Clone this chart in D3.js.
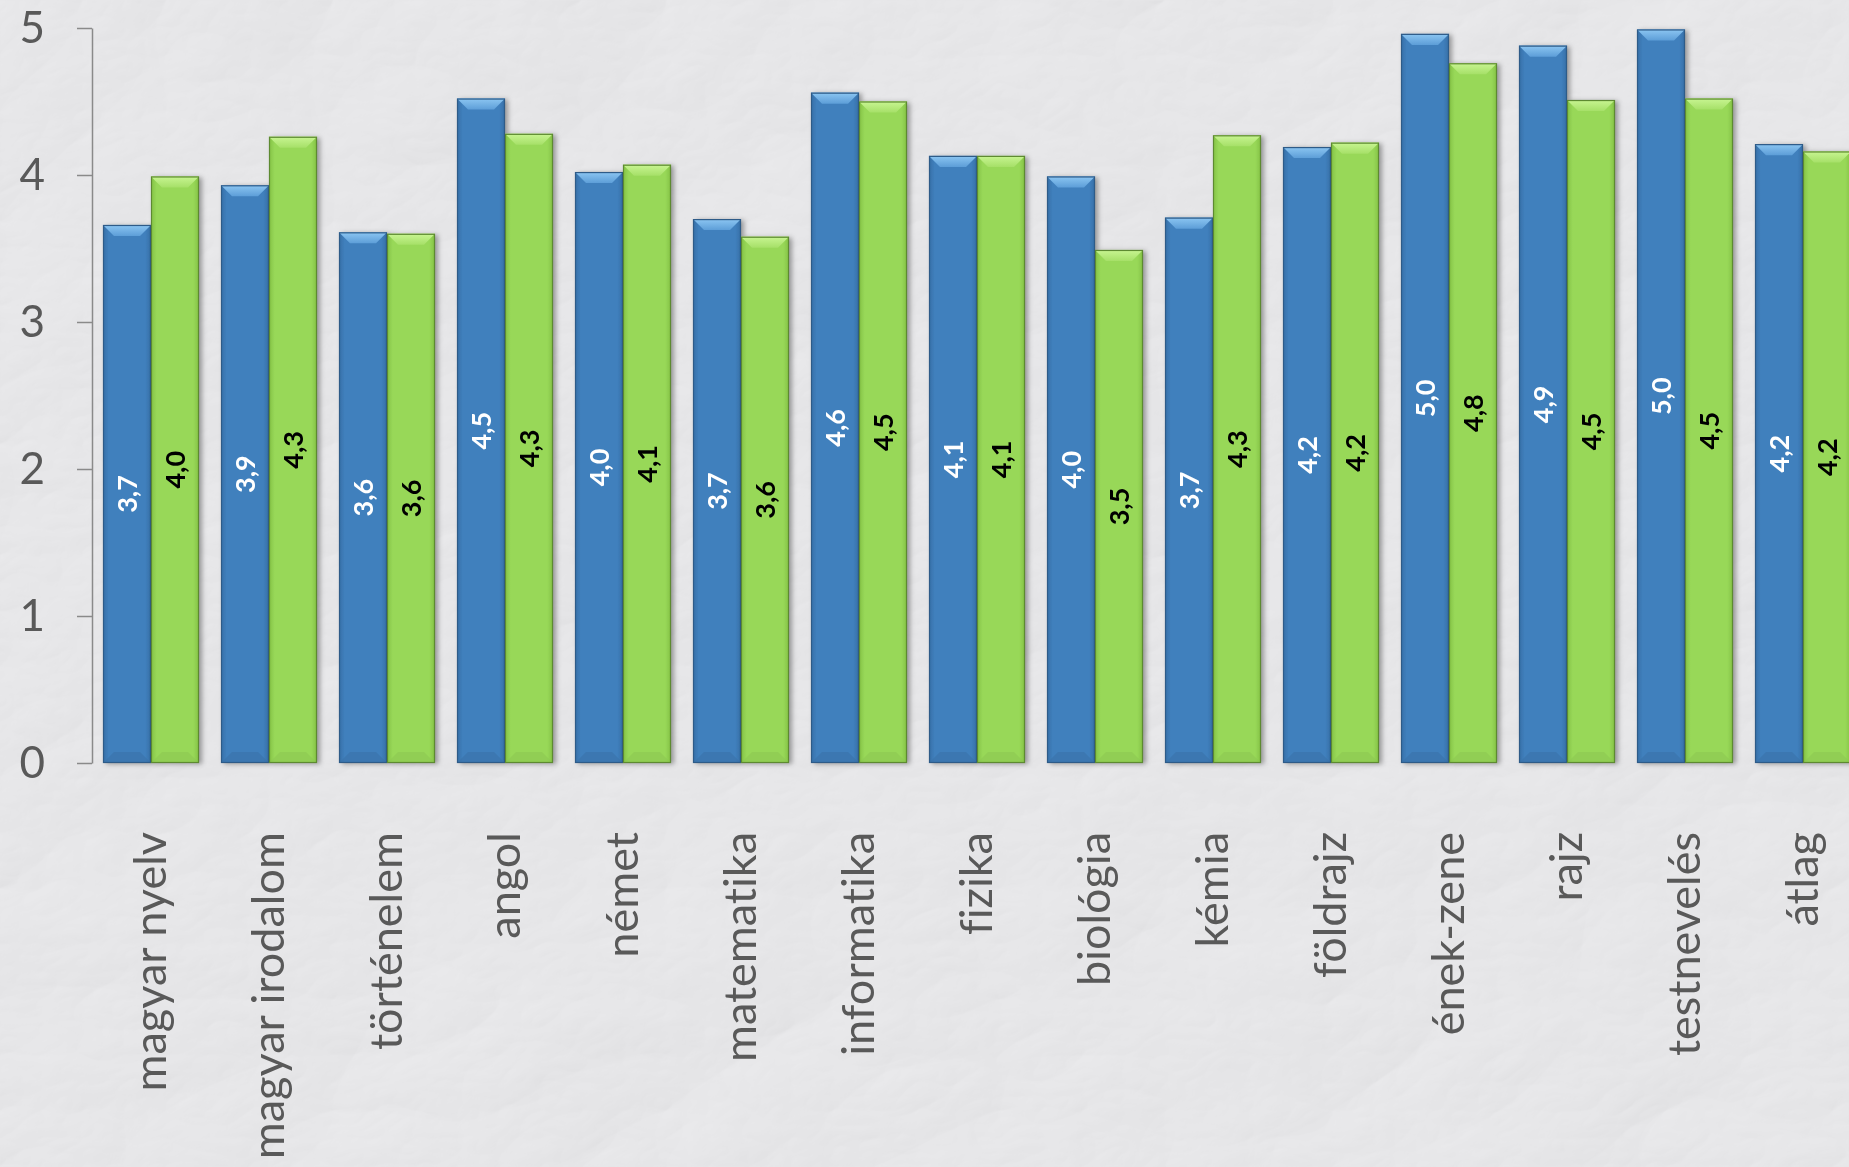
<!DOCTYPE html>
<html>
<head>
<meta charset="utf-8">
<script src="https://cdn.jsdelivr.net/npm/d3@7"></script>
<style>
  html, body { margin: 0; padding: 0; background: #ebebed; overflow: hidden; }
  svg { display: block; }
  text { font-variant-ligatures: none; font-feature-settings: "liga" 0; }
</style>
</head>
<body>
<svg id="chart" width="1849" height="1167"></svg>
<script>
// ---- data ----
const categories = ["magyar nyelv", "magyar irodalom", "történelem", "angol", "német", "matematika",
  "informatika", "fizika", "biológia", "kémia", "földrajz", "ének-zene", "rajz", "testnevelés", "átlag"];
const seriesNames = ["s1", "s2"];
const series1 = [3.66, 3.93, 3.61, 4.52, 4.02, 3.70, 4.56, 4.13, 3.99, 3.71, 4.19, 4.96, 4.88, 4.99, 4.21];
const series2 = [3.99, 4.26, 3.60, 4.28, 4.07, 3.58, 4.50, 4.13, 3.49, 4.27, 4.22, 4.76, 4.51, 4.52, 4.16];
const yTicks = [0, 1, 2, 3, 4, 5];

const W = 1849, H = 1167;
const svg = d3.select("#chart");
const defs = svg.append("defs");

// paper texture
const pf = defs.append("filter").attr("id", "paper").attr("x", 0).attr("y", 0).attr("width", W).attr("height", H)
  .attr("filterUnits", "userSpaceOnUse");
pf.append("feTurbulence").attr("type", "turbulence").attr("baseFrequency", "0.003 0.0045").attr("numOctaves", 5).attr("seed", 11).attr("result", "n");
const lt = pf.append("feDiffuseLighting").attr("in", "n").attr("lighting-color", "#ffffff").attr("surfaceScale", 6).attr("diffuseConstant", 1.0).attr("result", "l");
lt.append("feDistantLight").attr("azimuth", 225).attr("elevation", 50);

// shadow
const sf = defs.append("filter").attr("id", "shadow").attr("x", "-30%").attr("y", "-10%").attr("width", "160%").attr("height", "120%");
sf.append("feDropShadow").attr("dx", 3).attr("dy", 1).attr("stdDeviation", 2.5).attr("flood-color", "#000").attr("flood-opacity", 0.35);

function hGrad(id, edge, mid) {
  const g = defs.append("linearGradient").attr("id", id).attr("x1", 0).attr("x2", 1).attr("y1", 0).attr("y2", 0);
  g.append("stop").attr("offset", "0%").attr("stop-color", edge);
  g.append("stop").attr("offset", "12%").attr("stop-color", mid);
  g.append("stop").attr("offset", "88%").attr("stop-color", mid);
  g.append("stop").attr("offset", "100%").attr("stop-color", edge);
}
function vGrad(id, c1, c2) {
  const g = defs.append("linearGradient").attr("id", id).attr("x1", 0).attr("x2", 0).attr("y1", 0).attr("y2", 1);
  g.append("stop").attr("offset", "0%").attr("stop-color", c1);
  g.append("stop").attr("offset", "100%").attr("stop-color", c2);
}
hGrad("bodyB", "#366fa7", "#4080bd");
hGrad("bodyG", "#84c246", "#98d858");
vGrad("topB", "#8cc6f2", "#5d9ed8");
vGrad("topG", "#c8f592", "#a6e068");

const styles = [
  { body: "url(#bodyB)", top: "url(#topB)", bottom: "#3b72a8", stroke: "#2e5b88", label: "#ffffff" },
  { body: "url(#bodyG)", top: "url(#topG)", bottom: "#8cc852", stroke: "#5d8a31", label: "#000000" }
];

// background
svg.append("rect").attr("width", W).attr("height", H).attr("fill", "#ececee");
svg.append("rect").attr("width", W).attr("height", H).attr("filter", "url(#paper)").attr("opacity", 0.22).style("mix-blend-mode", "multiply");

// ---- scales ----
const x0 = d3.scaleBand().domain(categories).range([92, 92 + 118 * categories.length]).padding(0);
const x1 = d3.scaleBand().domain(seriesNames).range([11, 107]).padding(0);
const y = d3.scaleLinear().domain([0, 5]).range([763, 28]);

// ---- axis ----
const yAxis = d3.axisLeft(y).tickValues(yTicks).tickSize(15).tickSizeOuter(0).tickPadding(32).tickFormat(d3.format("d"));
const ga = svg.append("g").attr("transform", "translate(92,0)").call(yAxis);
ga.select(".domain").attr("stroke", "#8a8a8a").attr("stroke-width", 1.5);
ga.selectAll(".tick line").attr("stroke", "#8a8a8a").attr("stroke-width", 1.5);
ga.selectAll(".tick text").attr("fill", "#595959").style("font-family", "Lato, 'Open Sans', sans-serif").style("font-size", "44px");

// ---- bars ----
const data = [];
categories.forEach((c, i) => {
  [series1, series2].forEach((s, j) => data.push({ cat: c, ser: seriesNames[j], j, v: s[i] }));
});

const bw = x1.bandwidth();
const bev = 11;
const bars = svg.append("g").selectAll("g.bar").data(data).join("g").attr("class", "bar")
  .attr("transform", d => `translate(${x0(d.cat) + x1(d.ser)},0)`);

bars.append("rect").attr("x", 0).attr("y", d => y(d.v)).attr("width", bw).attr("height", d => y(0) - y(d.v))
  .attr("fill", d => styles[d.j].body).attr("filter", "url(#shadow)");
// top bevel
bars.append("path").attr("d", d => {
  const t = y(d.v);
  return `M0,${t}L${bw},${t}L${bw - bev},${t + bev}L${bev},${t + bev}Z`;
}).attr("fill", d => styles[d.j].top);
// bottom bevel
bars.append("path").attr("d", d => {
  const b = y(0);
  return `M0,${b}L${bw},${b}L${bw - bev},${b - bev}L${bev},${b - bev}Z`;
}).attr("fill", d => styles[d.j].bottom).attr("opacity", 0.6);
// outline
bars.append("rect").attr("x", 0.5).attr("y", d => y(d.v) + 0.5).attr("width", bw - 1).attr("height", d => y(0) - y(d.v) - 1)
  .attr("fill", "none").attr("stroke", d => styles[d.j].stroke).attr("stroke-width", 1.2);

// value labels
const fmt = v => d3.format(".1f")(v).replace(".", ",");
bars.append("text")
  .attr("transform", d => `translate(${bw / 2},${(y(d.v) + y(0)) / 2}) rotate(-90)`)
  .attr("text-anchor", "middle").attr("dy", "0.36em")
  .attr("fill", d => styles[d.j].label)
  .style("font-family", "Lato, 'Open Sans', sans-serif").style("font-weight", "bold").style("font-size", "27px")
  .text(d => fmt(d.v));

// category labels
svg.append("g").selectAll("text").data(categories).join("text")
  .attr("transform", d => `translate(${x0(d) + x0.bandwidth() / 2 - 2},832) rotate(-90)`)
  .attr("text-anchor", "end").attr("dy", "0.38em")
  .attr("fill", "#595959")
  .style("font-family", "Lato, 'Open Sans', sans-serif").style("font-size", "45px")
  .text(d => d);
</script>
</body>
</html>
